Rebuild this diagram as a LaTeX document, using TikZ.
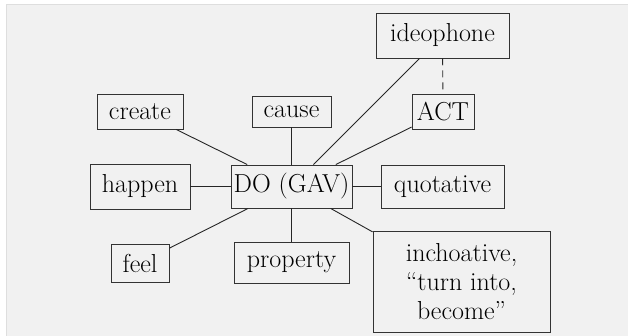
\documentclass[tikz,border=0pt]{standalone}
\begin{document}
\begin{tikzpicture}[x=1pt,y=-1pt,
  box/.style={draw=black!80, line width=0.9pt, inner sep=0pt, font=\fontsize{26}{29}\selectfont, align=center},
  link/.style={draw=black!85, line width=0.9pt},
  dlink/.style={link, dash pattern=on 7pt off 5pt}]
\useasboundingbox (0,0) rectangle (628,335);
\fill[white] (0,0) rectangle (628,335);
\filldraw[fill=black!5.5, draw=black!13] (6,4) rectangle (630,337);
\node[box, minimum width=133pt, minimum height=45pt] (ideo) at (442.5,35.5) {ideophone};
\node[box, minimum width=62pt, minimum height=35pt] (act) at (443,111.5) {ACT};
\node[box, minimum width=86pt, minimum height=35pt] (create) at (140,111.5) {create};
\node[box, minimum width=79pt, minimum height=31pt] (cause) at (291.5,111.5) {cause};
\node[box, minimum width=100pt, minimum height=45pt] (happen) at (140,186.5) {happen};
\node[box, minimum width=121pt, minimum height=43pt] (do) at (291.5,186.5) {DO (GAV)};
\node[box, minimum width=123pt, minimum height=43pt] (quot) at (442.5,186.5) {quotative};
\node[box, minimum width=58pt, minimum height=38pt] (feel) at (140,263) {feel};
\node[box, minimum width=115pt, minimum height=41pt] (prop) at (291.5,262.5) {property};
\node[box, minimum width=177pt, minimum height=101pt] (inch) at (461.5,281.5) {inchoative,\\``turn into,\\become''};
\draw[link] (do) -- (create);
\draw[link] (do) -- (cause);
\draw[link] (do) -- (ideo);
\draw[link] (do) -- (act);
\draw[link] (do) -- (happen);
\draw[link] (do) -- (quot);
\draw[link] (do) -- (feel);
\draw[link] (do) -- (prop);
\draw[link] (do) -- (inch);
\draw[dlink] (ideo) -- (act);
\end{tikzpicture}
\end{document}
